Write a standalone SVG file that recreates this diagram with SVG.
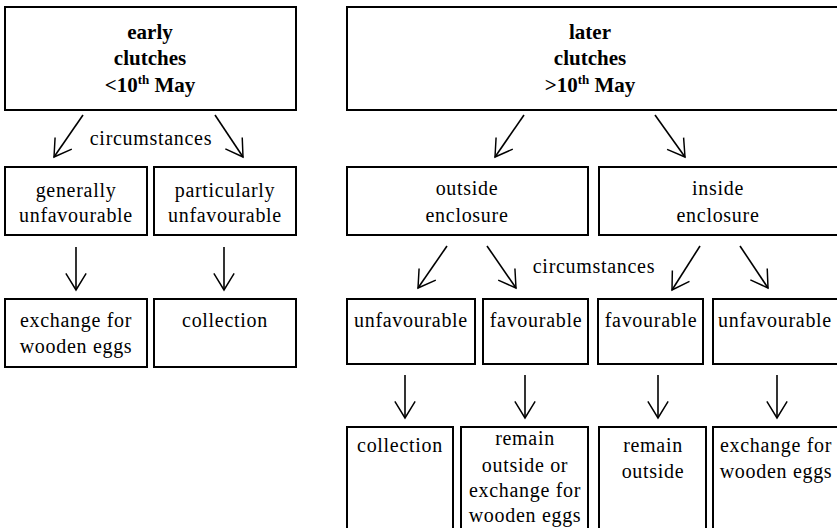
<svg xmlns="http://www.w3.org/2000/svg" width="837" height="528" viewBox="0 0 837 528">
<defs>
<style>
rect{fill:#fff;stroke:#000;stroke-width:2}
text{font-family:"Liberation Serif","Times New Roman",serif;font-size:20px;fill:#000;text-anchor:middle;letter-spacing:0.7px}
.b{font-weight:bold;font-size:21px;letter-spacing:0}
.c line{stroke:#000;stroke-width:1.6}
</style>
<marker id="ah" markerUnits="userSpaceOnUse" markerWidth="22" markerHeight="24" refX="18" refY="11" orient="auto" viewBox="-2 -2 22 26">
<path d="M0,0 L18,11 L0,22" fill="none" stroke="#000" stroke-width="1.6"/>
</marker>
</defs>
<rect x="0" y="0" width="837" height="528" style="stroke:none"/>
<g id="early">
<rect x="5" y="7" width="291" height="103"/>
<text class="b" x="150" y="39">early</text>
<text class="b" x="150" y="65">clutches</text>
<text class="b" x="150" y="92">&lt;10<tspan font-size="13" dy="-8">th</tspan><tspan dy="8"> May</tspan></text>
</g>
<g id="later">
<rect x="347" y="7" width="500" height="103"/>
<text class="b" x="590" y="39">later</text>
<text class="b" x="590" y="65">clutches</text>
<text class="b" x="590" y="92">&gt;10<tspan font-size="13" dy="-8">th</tspan><tspan dy="8"> May</tspan></text>
</g>
<g id="gen-unfav">
<rect x="5" y="167" width="142" height="68"/>
<text x="76" y="197">generally</text>
<text x="76" y="222">unfavourable</text>
</g>
<g id="part-unfav">
<rect x="154" y="167" width="142" height="68"/>
<text x="225" y="197">particularly</text>
<text x="225" y="222">unfavourable</text>
</g>
<g id="exch-left">
<rect x="5" y="299" width="142" height="68"/>
<text x="76" y="327">exchange for</text>
<text x="76" y="353">wooden eggs</text>
</g>
<g id="coll-left">
<rect x="154" y="299" width="142" height="68"/>
<text x="225" y="327">collection</text>
</g>
<g id="outside">
<rect x="347" y="167" width="241" height="68"/>
<text x="467" y="195">outside</text>
<text x="467" y="222">enclosure</text>
</g>
<g id="inside">
<rect x="599" y="167" width="250" height="68"/>
<text x="718" y="195">inside</text>
<text x="718" y="222">enclosure</text>
</g>
<g id="out-unfav">
<rect x="347" y="299" width="128" height="65"/>
<text x="411" y="327">unfavourable</text>
</g>
<g id="out-fav">
<rect x="483" y="299" width="105" height="65"/>
<text x="536" y="327">favourable</text>
</g>
<g id="in-fav">
<rect x="598" y="299" width="105" height="65"/>
<text x="651" y="327">favourable</text>
</g>
<g id="in-unfav">
<rect x="713" y="299" width="140" height="65"/>
<text x="775" y="327">unfavourable</text>
</g>
<g id="coll-right">
<rect x="347" y="427" width="106" height="120"/>
<text x="400" y="452">collection</text>
</g>
<g id="remain-or">
<rect x="461" y="427" width="127" height="120"/>
<text x="525" y="445">remain</text>
<text x="525" y="472">outside or</text>
<text x="525" y="497">exchange for</text>
<text x="525" y="522">wooden eggs</text>
</g>
<g id="remain-out">
<rect x="599" y="427" width="107" height="120"/>
<text x="653" y="452">remain</text>
<text x="653" y="478">outside</text>
</g>
<g id="exch-right">
<rect x="713" y="427" width="140" height="120"/>
<text x="776" y="452">exchange for</text>
<text x="776" y="478">wooden eggs</text>
</g>
<g id="labels">
<text x="151" y="145">circumstances</text>
<text x="594" y="273">circumstances</text>
</g>
<g class="c" id="connectors">
<line x1="83" y1="115" x2="54" y2="157" marker-end="url(#ah)"/>
<line x1="215" y1="115" x2="243" y2="157" marker-end="url(#ah)"/>
<line x1="524" y1="115" x2="495" y2="157" marker-end="url(#ah)"/>
<line x1="655" y1="115" x2="685" y2="157" marker-end="url(#ah)"/>
<line x1="76" y1="247" x2="76" y2="290" marker-end="url(#ah)"/>
<line x1="224" y1="247" x2="224" y2="290" marker-end="url(#ah)"/>
<line x1="447" y1="246" x2="418" y2="288" marker-end="url(#ah)"/>
<line x1="487" y1="246" x2="516" y2="288" marker-end="url(#ah)"/>
<line x1="700" y1="246" x2="672" y2="290" marker-end="url(#ah)"/>
<line x1="740" y1="246" x2="768" y2="288" marker-end="url(#ah)"/>
<line x1="405" y1="375" x2="405" y2="418" marker-end="url(#ah)"/>
<line x1="525" y1="375" x2="525" y2="418" marker-end="url(#ah)"/>
<line x1="658" y1="375" x2="658" y2="418" marker-end="url(#ah)"/>
<line x1="777" y1="375" x2="777" y2="418" marker-end="url(#ah)"/>
</g>
</svg>
